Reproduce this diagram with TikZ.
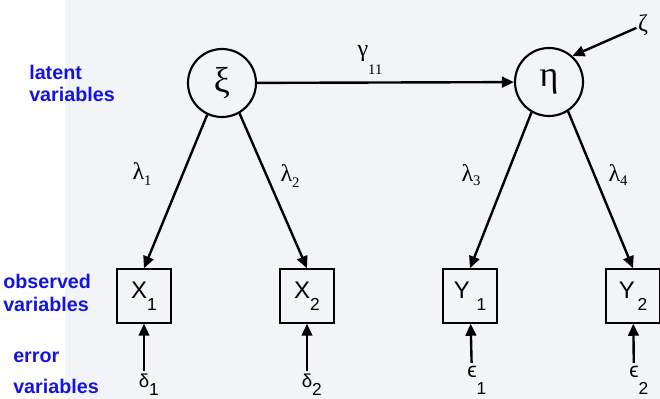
\documentclass[tikz,border=0pt]{standalone}
\usepackage{fontspec}
\newfontfamily\arialfont{Liberation Sans}
\newfontfamily\timesfont{Liberation Serif}
\usetikzlibrary{arrows.meta,positioning}

\definecolor{labelblue}{RGB}{20,20,225}
\definecolor{scanbg}{RGB}{243,244,247}

\newcommand{\subnum}[2]{\raisebox{#1}{\fontsize{13}{15}\selectfont #2}}

\begin{document}
\begin{tikzpicture}[x=0.75pt,y=-0.75pt,
	latent/.style={draw, circle, line width=1.6pt, minimum size=51pt, inner sep=0pt, font=\timesfont\fontsize{27}{29}\selectfont},
	observed/.style={draw, rectangle, line width=1.6pt, minimum width=41pt, minimum height=40pt, inner sep=0pt, font=\arialfont\fontsize{18}{20}\selectfont},
	coef/.style={inner sep=1pt, font=\timesfont\fontsize{18}{20}\selectfont},
	errlabel/.style={anchor=base, inner sep=2pt, font=\arialfont\fontsize{14}{16}\selectfont},
	varlabel/.style={anchor=base west, inner sep=0pt, align=left, text=labelblue, font=\arialfont\bfseries\fontsize{14.8}{17}\selectfont},
	effect/.style={line width=1.8pt, -{Triangle[length=9pt,width=8pt]}}]
			\useasboundingbox (0,0) rectangle (660,399);
			\fill[scanbg] (65,0) rectangle (660,399);

			\node[latent] (xi) at (222,83) {ξ};
			\node[latent] (eta) at (549,82) {η};
			\node[coef] (zeta) at (643,25) {ζ};
			\node[coef, anchor=base west] (gamma) at (356,57) {γ\raisebox{-13.5pt}{\fontsize{11}{12}\selectfont 11}};

			\node[coef] (lambda1) at (142,174) {λ\raisebox{-5pt}{\fontsize{11}{12}\selectfont 1}};
			\node[coef] (lambda2) at (290,176) {λ\raisebox{-5pt}{\fontsize{11}{12}\selectfont 2}};
			\node[coef] (lambda3) at (471,175) {λ\raisebox{-3pt}{\fontsize{11}{12}\selectfont 3}};
			\node[coef] (lambda4) at (618,175) {λ\raisebox{-3pt}{\fontsize{11}{12}\selectfont 4}};

			\node[observed] (x1) at (144,296) {X\subnum{-9pt}{1}\hspace{7pt}};
			\node[observed] (x2) at (307,296) {X\subnum{-9pt}{2}\hspace{12pt}};
			\node[observed] (y1) at (470,296) {Y\hspace{5pt}\subnum{-9pt}{1}};
			\node[observed] (y2) at (633,296) {Y\hspace{2pt}\subnum{-9pt}{2}\hspace{10pt}};

			\node[errlabel] (delta1) at (144,387) {δ\rlap{\subnum{-6pt}{1}}};
			\node[errlabel] (delta2) at (307,387) {δ\rlap{\subnum{-6pt}{2}}};
			\node[errlabel, font=\arialfont\fontsize{16}{18}\selectfont] (eps1) at (472,377) {ϵ\rlap{\subnum{-13pt}{1}}};
			\node[errlabel, font=\arialfont\fontsize{16}{18}\selectfont] (eps2) at (634,377) {ϵ\rlap{\subnum{-13pt}{2}}};

			\node[varlabel] (latentlab) at (29,102) {latent\\variables};
			\node[varlabel] (observedlab) at (3,311) {observed\\variables};
			\node[varlabel] (errorlab) at (13,393) {error\\[6pt]variables};

			\draw[effect] (xi) -- (eta);
			\draw[effect] (zeta) -- (eta.48);
			\draw[effect] (xi.-115) -- (x1.north);
			\draw[effect] (xi.-60) -- (x2.north);
			\draw[effect] (eta.-120) -- (y1.north);
			\draw[effect] (eta.-57) -- (y2.north);
			\draw[effect] (delta1) -- (x1);
			\draw[effect] (delta2) -- (x2);
			\draw[effect] (eps1) -- (y1);
			\draw[effect] (eps2) -- (y2);
	\end{tikzpicture}
\end{document}
